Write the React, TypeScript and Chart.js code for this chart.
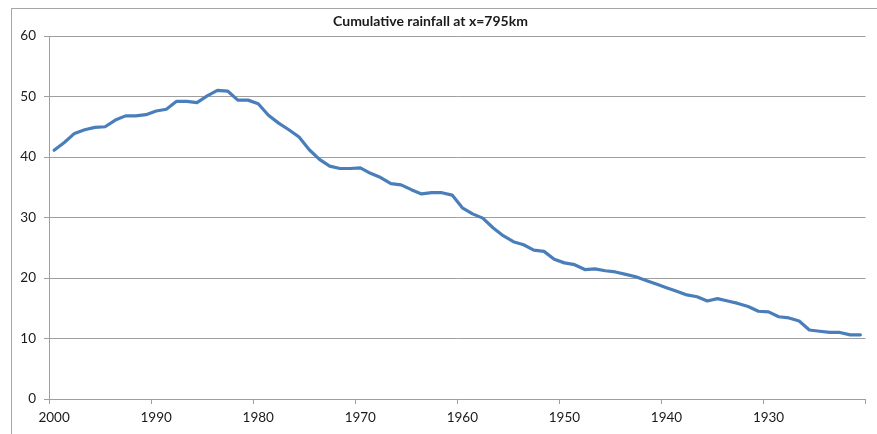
import React, { useEffect, useRef } from "react";
import { Chart, registerables } from "chart.js";

Chart.register(...registerables);

const TITLE = "Cumulative rainfall at x=795km";

const years: string[] = [];
for (let y = 2000; y >= 1921; y--) years.push(String(y));

const rainfall: number[] = [
  41.1, 42.4, 43.9, 44.5, 44.9, 45.0, 46.1, 46.8, 46.8, 47.0,
  47.6, 47.9, 49.2, 49.2, 49.0, 50.1, 51.0, 50.9, 49.4, 49.4,
  48.8, 46.9, 45.6, 44.5, 43.3, 41.2, 39.6, 38.5, 38.1, 38.1,
  38.2, 37.3, 36.6, 35.6, 35.4, 34.6, 33.9, 34.1, 34.1, 33.7,
  31.6, 30.6, 29.9, 28.3, 27.0, 26.0, 25.5, 24.6, 24.4, 23.1,
  22.5, 22.2, 21.4, 21.5, 21.2, 21.0, 20.6, 20.2, 19.6, 19.0,
  18.4, 17.8, 17.2, 16.9, 16.2, 16.6, 16.2, 15.8, 15.3, 14.5,
  14.4, 13.6, 13.4, 12.9, 11.4, 11.2, 11.0, 11.0, 10.6, 10.6,
];

const GRID = "#9f9f9f";
const TEXT = "#1a1a1a";
const FONT = "Lato";

const framePlugin = {
  id: "frameAndTitle",
  beforeDraw(chart: any) {
    const ctx = chart.ctx;
    ctx.save();
    ctx.fillStyle = "#ffffff";
    ctx.fillRect(0, 0, chart.width, chart.height);
    ctx.strokeStyle = "#a6a6a6";
    ctx.lineWidth = 1;
    ctx.strokeRect(11.5, 8.5, 3000, 3000);
    ctx.restore();
  },
  afterDraw(chart: any) {
    const ctx = chart.ctx;
    ctx.save();
    ctx.fillStyle = TEXT;
    ctx.font = `bold 14px ${FONT}`;
    ctx.textAlign = "center";
    ctx.textBaseline = "alphabetic";
    ctx.fillText(TITLE, 430.5, 25.5);
    ctx.restore();
  },
};

export default function App() {
  const ref = useRef<HTMLCanvasElement | null>(null);

  useEffect(() => {
    if (!ref.current) return;
    const chart = new Chart(ref.current, {
      type: "line",
      data: {
        labels: years,
        datasets: [
          {
            label: TITLE,
            data: rainfall,
            borderColor: "#4a7ebb",
            backgroundColor: "#4a7ebb",
            borderWidth: 3.2,
            pointRadius: 0,
            tension: 0,
            borderJoinStyle: "round",
            borderCapStyle: "round",
          },
        ],
      },
      options: {
        animation: false,
        responsive: false,
        devicePixelRatio: 1,
        layout: { padding: { top: 36, right: 11.5, left: 0, bottom: 0 } },
        plugins: {
          legend: { display: false },
          title: { display: false },
          tooltip: { enabled: false },
        },
        scales: {
          x: {
            type: "category",
            offset: true,
            afterFit(scale: any) {
              scale.height = 35;
            },
            grid: {
              offset: true,
              drawOnChartArea: false,
              drawTicks: true,
              tickLength: 5,
              color: (ctx: any) =>
                ctx.type === "scale" || ctx.index % 10 === 0 ? GRID : "rgba(0,0,0,0)",
            },
            border: { display: true, color: GRID, width: 1 },
            ticks: {
              autoSkip: false,
              maxRotation: 0,
              minRotation: 0,
              padding: 6,
              color: TEXT,
              font: { family: FONT, size: 13.5 },
              callback: (_v: any, i: number) => (i % 10 === 0 ? years[i] : ""),
            },
          },
          y: {
            min: 0,
            max: 60,
            afterFit(scale: any) {
              scale.width = 49;
            },
            grid: {
              color: GRID,
              drawTicks: true,
              tickLength: 5,
            },
            border: { display: true, color: GRID, width: 1 },
            ticks: {
              stepSize: 10,
              padding: 8,
              color: TEXT,
              font: { family: FONT, size: 13.5 },
            },
          },
        },
      },
      plugins: [framePlugin],
    });
    return () => chart.destroy();
  }, []);

  return (
    <div style={{ position: "fixed", left: 0, top: 0, width: 877, height: 434 }}>
      <canvas ref={ref} width={877} height={434} style={{ display: "block" }} />
    </div>
  );
}
